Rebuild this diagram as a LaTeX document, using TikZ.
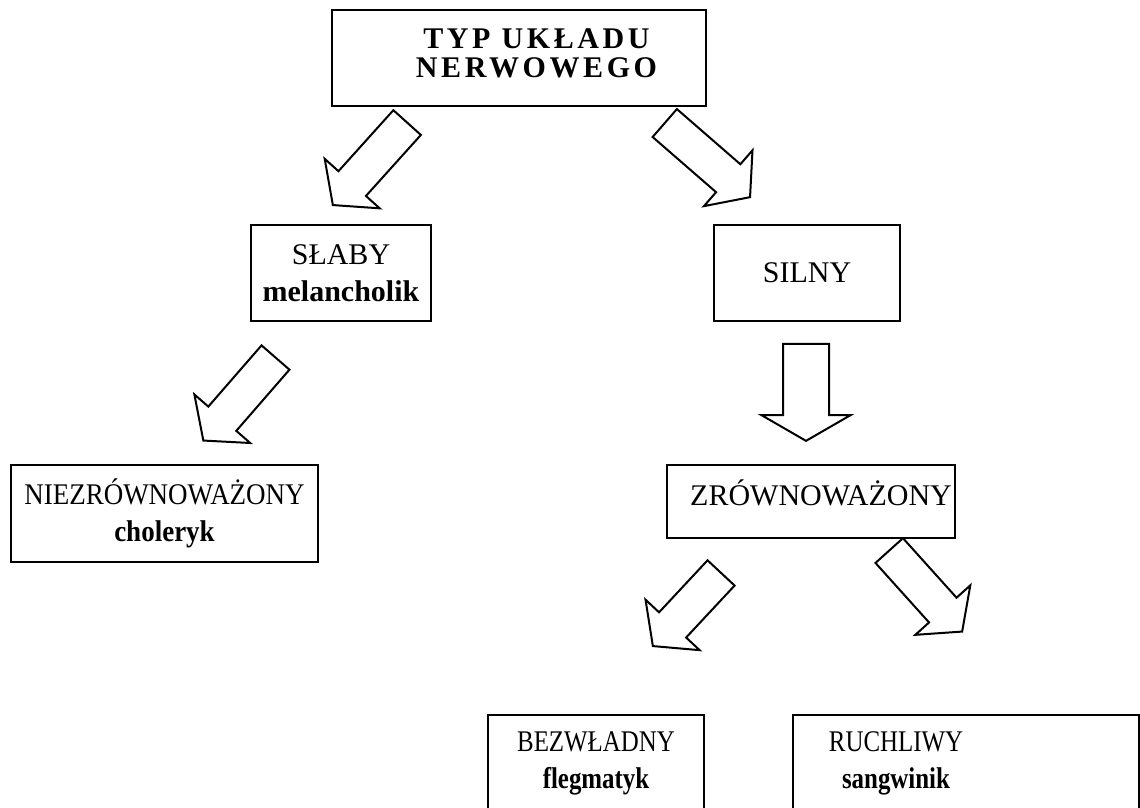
\documentclass[tikz,border=0pt]{standalone}
\usepackage{fontspec}
\setmainfont{Liberation Serif}
\newfontfamily\narrowfont{Liberation Serif}[FakeStretch=0.9]
\newfontfamily\condfont{Liberation Serif}[FakeStretch=0.83]
\usetikzlibrary{shapes.arrows}

\tikzset{
  box/.style={draw, line width=0.8pt, align=center, inner sep=0pt,
    font=\fontsize{12}{14.8}\selectfont},
  bigarrow/.style={single arrow, draw, line width=0.8pt, inner sep=0pt,
    text height=7pt, text depth=7pt,
    minimum width=28.8pt, single arrow head extend=7.4pt,
    single arrow tip angle=104, anchor=tip}
}

\begin{document}
\begin{tikzpicture}[x=0.4pt,y=-0.4pt]
  \useasboundingbox (0,0) rectangle (1140,807);
  \clip (0,0) rectangle (1140,807);
  % boxes
  \node[box, minimum width=149.6pt, minimum height=38.4pt,
    font=\fontsize{12}{11.6}\selectfont\bfseries\addfontfeature{LetterSpace=12}]
    (typ) at (519,58) {\hspace*{14pt}TYP UKŁADU\\\hspace*{14pt}NERWOWEGO\rule[-4pt]{0pt}{0pt}};
  \node[box, minimum width=72pt, minimum height=38.4pt] (slaby) at (341,273)
    {SŁABY\\\textbf{melancholik}};
  \node[box, minimum width=74.4pt, minimum height=38.4pt] (silny) at (807,273)
    {SILNY};
  \node[box, minimum width=122.8pt, minimum height=38.8pt,
    font=\narrowfont\fontsize{12}{14.8}\selectfont] (niezrown) at (164.5,513.5)
    {NIEZRÓWNOWAŻONY\\\textbf{choleryk}};
  \node[box, minimum width=115.2pt, minimum height=29.2pt] (zrown) at (811,501.5)
    {\hspace*{8pt}ZRÓWNOWAŻONY\rule[-7pt]{0pt}{0pt}};
  \node[box, minimum width=86.4pt, minimum height=38.4pt,
    font=\condfont\fontsize{12}{14.8}\selectfont] (bezwladny) at (596,763)
    {BEZWŁADNY\\\textbf{flegmatyk}};
  \node[box, minimum width=138.4pt, minimum height=38.4pt,
    font=\condfont\fontsize{12}{14.8}\selectfont] (ruchliwy) at (966,763)
    {RUCHLIWY\hspace*{56pt}\\\textbf{sangwinik}\hspace*{56pt}};
  % block arrows
  \node[bigarrow, minimum height=44.4pt, rotate=228] (a1) at (332,206) {};
  \node[bigarrow, minimum height=45.2pt, rotate=-41] (a2) at (751,198) {};
  \node[bigarrow, minimum height=44pt, rotate=229] (a3) at (202.5,441.5) {};
  \node[bigarrow, minimum height=38.8pt, text height=8.8pt, text depth=8.8pt,
    minimum width=34.8pt, single arrow head extend=8.6pt,
    single arrow tip angle=120, rotate=-90] (a4) at (806,442) {};
  \node[bigarrow, minimum height=40pt, rotate=227] (a5) at (652,647) {};
  \node[bigarrow, minimum height=43.6pt, rotate=-48] (a6) at (963,632.5) {};
\end{tikzpicture}
\end{document}
